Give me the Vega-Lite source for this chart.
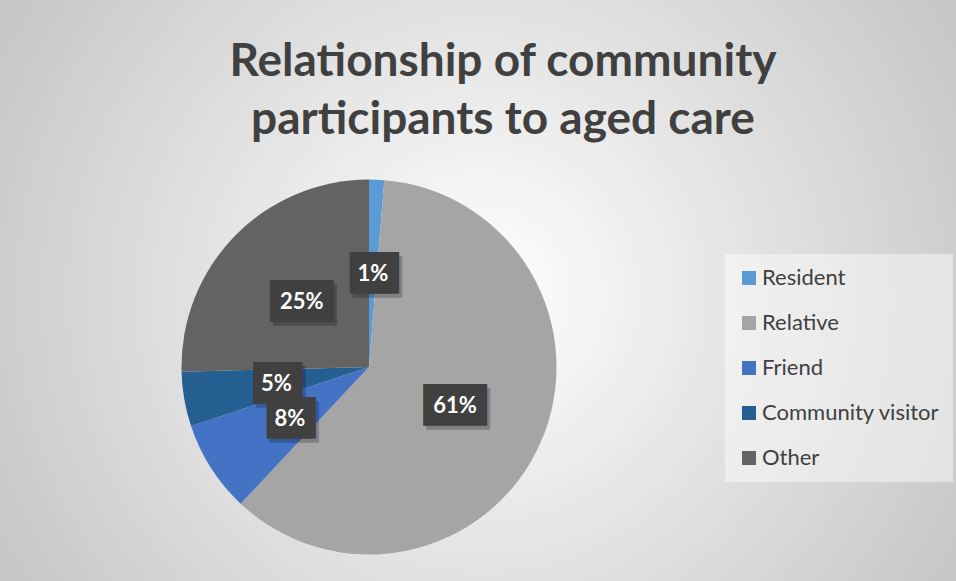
{
  "$schema": "https://vega.github.io/schema/vega-lite/v6.json",
  "width": 738,
  "height": 428,
  "autosize": {"type": "none"},
  "padding": {"left": 0, "top": 153, "right": 218, "bottom": 0},
  "background": "#ffffff",
  "config": {"font": "Lato", "view": {"stroke": null}},
  "title": {
    "text": ["Relationship of community", "participants to aged care"],
    "anchor": "middle",
    "frame": "group",
    "dx": 134,
    "offset": -518,
    "baseline": "bottom",
    "fontSize": 46,
    "font": "Lato",
    "fontWeight": "bold",
    "color": "#404040",
    "lineHeight": 58
  },
  "layer": [
    {
      "data": {"values": [{}]},
      "mark": {
        "type": "arc",
        "strokeWidth": 0,
        "fill": {
          "gradient": "radial",
          "x1": 0.5806, "y1": 0.4482, "r1": 0,
          "x2": 0.5806, "y2": 0.4482, "r2": 0.3986,
          "stops": [
            {"offset": 0, "color": "#ffffff"},
            {"offset": 1, "color": "#c6c6c6"}
          ]
        }
      },
      "encoding": {
        "theta": {"value": 0},
        "theta2": {"value": 6.29},
        "radius": {"value": 695}
      }
    },
    {
      "data": {
        "values": [
          {"relationship": "Resident", "pct": 0.013},
          {"relationship": "Relative", "pct": 0.607},
          {"relationship": "Friend", "pct": 0.079},
          {"relationship": "Community visitor", "pct": 0.047},
          {"relationship": "Other", "pct": 0.254}
        ]
      },
      "transform": [{"window": [{"op": "row_number", "as": "rank"}]}],
      "encoding": {
        "theta": {"field": "pct", "type": "quantitative", "stack": true},
        "order": {"field": "rank", "type": "quantitative"}
      },
      "layer": [
        {
          "mark": {"type": "arc", "outerRadius": 187.5, "strokeWidth": 0},
          "encoding": {
            "color": {
              "field": "relationship",
              "type": "nominal",
              "scale": {
                "domain": ["Resident", "Relative", "Friend", "Community visitor", "Other"],
                "range": ["#5b9bd5", "#a5a5a5", "#4472c4", "#255e91", "#636363"]
              },
              "legend": {
                "title": null,
                "orient": "none",
                "legendX": 725,
                "legendY": 101,
                "padding": 13,
                "fillColor": "rgba(255,255,255,0.45)",
                "symbolType": "square",
                "symbolSize": 196,
                "symbolStrokeWidth": 0,
                "labelFont": "Lato",
                "labelFontSize": 22,
                "labelColor": "#404040",
                "labelOffset": 2,
                "rowPadding": 23,
                "labelLimit": 300
              }
            }
          }
        },
        {
          "mark": {
            "type": "text",
            "font": "DejaVu Sans Mono",
            "fontSize": 35,
            "color": "#000000",
            "opacity": 0.22,
            "align": "center",
            "baseline": "alphabetic",
            "dx": 3,
            "dy": 16
          },
          "encoding": {
            "radius": {"value": 94},
            "text": {"condition": {"test": "datum.pct >= 0.1", "value": "███"}, "value": "▕██▎"}
          }
        },
        {
          "mark": {
            "type": "text",
            "font": "DejaVu Sans Mono",
            "fontSize": 35,
            "color": "#404040",
            "align": "center",
            "baseline": "alphabetic",
            "dy": 12
          },
          "encoding": {
            "radius": {"value": 94},
            "text": {"condition": {"test": "datum.pct >= 0.1", "value": "███"}, "value": "▕██▎"}
          }
        },
        {
          "mark": {
            "type": "text",
            "font": "Lato",
            "fontWeight": "bold",
            "fontSize": 22,
            "color": "#ffffff",
            "align": "center",
            "baseline": "alphabetic",
            "dy": 8
          },
          "encoding": {
            "radius": {"value": 94},
            "text": {"field": "pct", "type": "quantitative", "format": ".0%"}
          }
        }
      ]
    }
  ]
}
